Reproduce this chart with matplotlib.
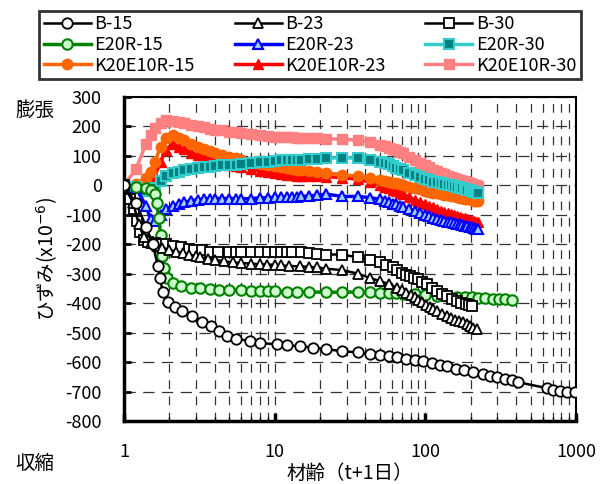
import matplotlib
matplotlib.use("Agg")
import matplotlib.pyplot as plt
from matplotlib.ticker import LogLocator, FixedLocator, NullFormatter

plt.rcParams['font.family'] = ['Noto Sans CJK JP', 'DejaVu Sans']
plt.rcParams['axes.unicode_minus'] = False

# ages (t+1 days)
age_a = [1, 1.2, 1.4, 1.5, 1.6, 1.75, 1.9, 2.1, 2.3, 2.5, 2.8, 3.1, 3.4, 3.7, 4, 4.5, 5, 5.5, 6, 7,
         8, 9, 10, 11, 12, 13, 14, 15, 17, 19, 22, 28, 36, 43, 50, 54, 57, 61, 64, 68,
         71, 78, 85, 92, 99, 106, 113, 120, 127, 134, 141, 148, 155, 162, 169, 176, 183, 190, 197, 204,
         211, 218, 225]

age_b15 = [1, 1.2, 1.4, 1.55, 1.68, 1.73, 1.81, 1.96, 2.18, 2.42, 2.83, 3.3, 3.8, 4.3, 4.8, 5.5, 6.9, 8,
           10.4, 12, 14.7, 18, 22, 28, 36, 43, 50, 57, 65, 75, 85, 97, 110, 125, 139, 160, 180, 207,
           240, 270, 300, 340, 375, 411, 640, 700, 780, 870, 990]
b15 = [0, -60, -140, -200, -275, -313, -363, -397, -414, -428, -445, -465, -479, -496, -510, -520, -529,
       -535, -540, -543, -546, -551, -556, -563, -567, -573, -577, -580, -584, -589, -594, -597, -603,
       -609, -614, -622, -628, -634, -641, -646, -651, -657, -662, -668, -688, -693, -697, -700, -702]

age_b23 = [1, 1.15, 1.25, 1.35, 1.5, 1.65, 1.8, 2, 2.2, 2.45, 2.7, 3, 3.2, 3.6, 4, 4.6, 5.3, 6, 7, 8,
           8.9, 10, 11, 12.5, 14.7, 17, 19, 22, 28, 36, 43, 50, 57, 65, 70, 75, 80, 85, 90, 95,
           101, 107, 113, 120, 130, 139, 148, 158, 167, 177, 188, 198, 208, 219]
b23 = [0, -60, -130, -175, -195, -205, -212, -219, -225, -230, -235, -240, -245, -249, -253, -258, -262,
       -264, -266, -268, -269, -270, -272, -274, -275, -277, -279, -283, -288, -300, -315, -325, -335,
       -347, -356, -365, -372, -380, -388, -396, -405, -414, -421, -428, -437, -445, -450, -456, -460,
       -465, -472, -478, -484, -489]

age_b30 = [1, 1.1, 1.17, 1.22, 1.28, 1.35, 1.45, 1.6, 1.75, 1.9, 2.1, 2.4, 2.7, 2.9, 3.3, 3.7, 4.2, 5,
           5.5, 6, 7, 8, 9, 10, 11, 12, 13, 15, 17, 19, 22, 28, 36, 43, 50, 55, 61, 65, 70, 75,
           79, 84, 89, 95, 102, 110, 119, 129, 139, 150, 162, 173, 185, 195, 203]
b30 = [0, -45, -80, -120, -160, -185, -191, -196, -199, -201, -205, -211, -215, -218, -221, -225, -225,
       -226, -226, -227, -227, -227, -228, -228, -228, -228, -228, -228, -230, -232, -235, -235, -245,
       -252, -262, -270, -279, -287, -296, -303, -309, -314, -319, -327, -336, -348, -360, -369, -377,
       -386, -394, -398, -403, -407, -411]

age_e15 = [1, 1.2, 1.4, 1.5, 1.6, 1.65, 1.7, 1.75, 1.8, 1.85, 1.93, 2.1, 2.4, 2.8, 3.2, 3.7, 4.3, 5, 6, 7,
           8, 9, 10, 12, 14, 17, 22, 28, 36, 43, 50, 57, 64, 71, 85, 99, 120, 141, 162, 183,
           204, 225, 250, 280, 310, 340, 375]
e15 = [0, -5, -10, -15, -30, -60, -110, -170, -240, -280, -313, -330, -343, -347, -350, -352, -354, -355,
       -357, -358, -359, -360, -360, -361, -362, -362, -363, -363, -362, -363, -364, -366, -367, -368,
       -370, -372, -375, -377, -378, -379, -380, -381, -383, -385, -386, -387, -388]

e23 = [0, -10, -70, -115, -120, -100, -80, -70, -63, -58, -52, -49, -47, -46, -45, -45, -45, -46, -46, -45,
       -43, -42, -41, -40, -40, -39, -39, -38, -36, -34, -30, -38, -38, -42, -48, -52, -56, -62, -65, -70,
       -74, -81, -88, -94, -100, -105, -110, -114, -117, -120, -123, -126, -128, -131, -133, -135, -137,
       -139, -141, -143, -145, -147, -150]
e30 = [0, -5, -20, -20, -10, 15, 30, 40, 46, 50, 55, 59, 61, 63, 65, 67, 69, 70, 72, 75,
       78, 80, 82, 84, 85, 86, 87, 87, 88, 90, 92, 93, 92, 87, 80, 76, 72, 65, 60, 54,
       50, 42, 35, 28, 22, 17, 12, 10, 7, 5, 2, 0, -2, -5, -8, -10, -12, -15, -17, -20,
       -22, -24, -25]
k15 = [0, 5, 25, 45, 80, 130, 160, 170, 160, 152, 140, 130, 122, 115, 110, 102, 95, 91, 87, 80,
       73, 68, 64, 61, 58, 56, 53, 51, 48, 45, 42, 36, 30, 25, 18, 15, 12, 8, 6, 3,
       0, -5, -10, -14, -18, -22, -25, -28, -30, -32, -34, -36, -38, -40, -42, -43, -45, -47, -48, -50,
       -52, -54, -55]
k23 = [0, -5, -5, 5, 30, 80, 120, 140, 130, 122, 110, 102, 96, 90, 86, 78, 70, 66, 63, 56,
       48, 44, 40, 38, 36, 34, 33, 32, 31, 30, 29, 26, 20, 10, 0, -6, -10, -16, -20, -26,
       -30, -40, -50, -56, -62, -69, -75, -81, -86, -91, -95, -99, -102, -105, -107, -110, -112, -115,
       -117, -120, -122, -124, -126]
k30 = [0, 55, 140, 170, 195, 212, 220, 218, 214, 210, 205, 200, 196, 192, 189, 186, 182, 180, 178, 174,
       170, 167, 165, 164, 163, 162, 161, 161, 160, 159, 158, 156, 153, 146, 136, 132, 128, 122, 118, 112,
       108, 96, 84, 76, 70, 61, 53, 48, 43, 38, 33, 29, 26, 22, 19, 16, 13, 10, 7, 4,
       2, 0, -2]

fig = plt.figure(figsize=(6.05, 4.84), dpi=100)
ax = fig.add_axes([0.205, 0.130, 0.747, 0.670])

ms = 7.5
h = {}
h['K20E10R-30'] = ax.plot(age_a, k30, color='#ff8080', lw=2.5, marker='s', ms=ms, mfc='#ff8080', mec='#ff8080', zorder=3)[0]
h['K20E10R-23'] = ax.plot(age_a, k23, color='#ff0000', lw=2.5, marker='^', ms=ms, mfc='#ff0000', mec='#ff0000', zorder=4)[0]
h['K20E10R-15'] = ax.plot(age_a, k15, color='#ff6600', lw=2.5, marker='o', ms=ms, mfc='#ff6600', mec='#ff6600', zorder=5)[0]
h['E20R-30'] = ax.plot(age_a, e30, color='#33cccc', lw=2.5, marker='s', ms=ms, mfc='#008080', mec='#33cccc', mew=1.5, zorder=6)[0]
h['E20R-23'] = ax.plot(age_a, e23, color='#0000ff', lw=2.5, marker='^', ms=ms, mfc='#99ccff', mec='#0000ff', mew=1.5, zorder=7)[0]
h['E20R-15'] = ax.plot(age_e15, e15, color='#008000', lw=2.5, marker='o', ms=ms, mfc='#ccffcc', mec='#008000', mew=1.5, zorder=8)[0]
h['B-30'] = ax.plot(age_b30, b30, color='black', lw=1.8, marker='s', ms=ms, mfc='white', mec='black', mew=1.3, zorder=9)[0]
h['B-23'] = ax.plot(age_b23, b23, color='black', lw=1.8, marker='^', ms=ms, mfc='white', mec='black', mew=1.3, zorder=9)[0]
h['B-15'] = ax.plot(age_b15, b15, color='black', lw=1.8, marker='o', ms=ms, mfc='white', mec='black', mew=1.3, zorder=10)[0]

ax.set_xscale('log')
ax.set_xlim(1, 1000)
ax.set_ylim(-800, 300)
ax.yaxis.set_major_locator(FixedLocator(list(range(-800, 301, 100))))
ax.xaxis.set_major_locator(FixedLocator([1, 10, 100, 1000]))
ax.xaxis.set_major_formatter(matplotlib.ticker.FuncFormatter(lambda v, p: '%d' % v))
ax.xaxis.set_minor_locator(LogLocator(base=10, subs=range(2, 10)))
ax.xaxis.set_minor_formatter(NullFormatter())

ax.grid(True, which='both', axis='x', color='#333333', lw=0.9, linestyle=(0, (7, 6)))
ax.grid(True, which='major', axis='y', color='#333333', lw=0.9, linestyle=(0, (9, 6)))
ax.set_axisbelow(True)

ax.tick_params(axis='y', which='major', direction='in', length=5, width=2, labelsize=13, pad=16)
ax.tick_params(axis='x', which='major', direction='in', length=6, width=2.5, labelsize=13, pad=16)
ax.tick_params(axis='x', which='minor', direction='in', length=3, width=1)
ax.spines['left'].set_linewidth(2.5)
ax.spines['bottom'].set_linewidth(2.5)
ax.spines['top'].set_linewidth(1.5)
ax.spines['right'].set_linewidth(1.5)

ax.set_ylabel('ひずみ(x10$^{-6}$)', fontsize=14, labelpad=4)
ax.set_xlabel('材齢（t+1日）', fontsize=14, labelpad=1)
fig.text(0.058, 0.772, '膨張', fontsize=14, ha='center', va='center')
fig.text(0.058, 0.042, '収縮', fontsize=14, ha='center', va='center')

order = ['B-15', 'E20R-15', 'K20E10R-15', 'B-23', 'E20R-23', 'K20E10R-23', 'B-30', 'E20R-30', 'K20E10R-30']
leg = fig.legend([h[k] for k in order], order, ncol=3, loc='lower left',
                 bbox_to_anchor=(0.05, 0.818, 0.925, 0.161), mode='expand',
                 fontsize=13, frameon=True, fancybox=False, edgecolor='black',
                 handlelength=2.6, handletextpad=0.2, borderpad=0.25, labelspacing=0.15,
                 columnspacing=0.8)
leg.get_frame().set_linewidth(2)

fig.savefig('out.png', dpi=100)
